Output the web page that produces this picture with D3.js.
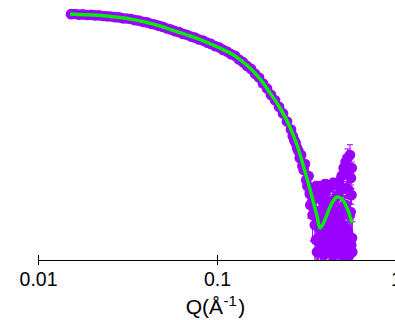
<!DOCTYPE html>
<html>
<head>
<meta charset="utf-8">
<script src="https://cdn.jsdelivr.net/npm/d3@7"></script>
<style>
  html, body { margin: 0; padding: 0; background: #fff; }
  svg { display: block; }
  text { font-family: Arial, "Liberation Sans", sans-serif; fill: #000; }
</style>
</head>
<body>
<svg id="chart" width="395" height="320"></svg>
<script>
// ---- data (Q in 1/A, intensity) ----
const qData = [
  0.01529,0.01610,0.01695,0.01784,0.01879,0.01978,0.02082,0.02192,0.02308,0.02430,
  0.02558,0.02693,0.02835,0.02985,0.03143,0.03308,0.03483,0.03667,0.03860,0.04064,
  0.04279,0.04504,0.04742,0.04993,0.05256,0.05534,0.05826,0.06134,0.06457,0.06798,
  0.07157,0.07535,0.07933,0.08352,0.08793,0.09257,0.09746,0.1026,0.1080,0.1137,
  0.1197,0.1261,0.1327,0.1397,0.1471,0.1549,0.1631,0.1717,0.1807,0.1903,
  0.2003,0.2109,0.2221,0.2338,0.2461,0.2591,
  0.265,0.270,0.275,0.280,0.285,0.290,0.295,0.300,0.305,0.310,
  0.315,0.320,0.325,0.330,0.335,0.340,0.345,0.350,0.355,0.360,
  0.364,0.368,0.373,0.377,0.381,0.386,0.390,0.394,0.398,0.403,
  0.407,0.411,0.416,0.420,0.424,0.429,0.433,0.437,0.441,0.446,
  0.450,0.454,0.459,0.463,0.467,0.472,0.476,0.480,0.484,0.489,
  0.493,0.497,0.502,0.506,0.510,0.515,0.519,0.523,0.527,0.532,
  0.536,0.540,0.545,0.549,0.553,0.558,0.562,0.566,0.570
];
const iData = [
  5.33,5.38,5.24,5.29,5.15,5.19,5.06,5.08,4.92,4.86,
  4.82,4.67,4.63,4.45,4.41,4.31,4.09,4.00,3.81,3.71,
  3.49,3.38,3.18,3.03,2.83,2.70,2.51,2.41,2.23,2.14,
  1.98,1.89,1.74,1.66,1.52,1.43,1.30,1.23,1.10,1.02,
  0.911,0.845,0.718,0.636,0.540,0.473,0.381,0.322,0.248,0.199,
  0.150,0.118,0.0884,0.0659,0.0461,0.0322,
  0.0242,0.0203,0.0178,0.01425,0.01248,0.00915,0.01045,0.00642,0.00538,0.00702,
  0.00346,0.00265,0.00412,0.00186,0.00242,0.00130,0.00203,0.000915,0.00156,0.00265,
  0.000538,0.000265,0.00203,0.000838,0.000170,0.00265,0.000377,0.00114,0.00178,0.00289,
  0.000242,0.000733,0.00142,0.00242,0.000412,0.000156,0.00105,0.00265,0.000588,0.00303,
  0.000222,0.00142,0.000838,0.00277,0.000346,0.00170,0.000156,0.00316,0.000733,0.000265,
  0.00222,0.00412,0.000471,0.000142,0.00588,0.00114,0.000222,0.00767,0.00242,0.000156,
  0.00915,0.000346,0.00431,0.000125,0.01045,0.000838,0.000194,0.00588,0.000142
];
const errData = [
  0.08,0.08,0.07,0.07,0.07,0.07,0.06,0.06,0.06,0.06,
  0.06,0.05,0.05,0.05,0.05,0.05,0.04,0.04,0.04,0.04,
  0.04,0.04,0.03,0.03,0.03,0.03,0.03,0.03,0.03,0.02,
  0.02,0.02,0.02,0.02,0.02,0.02,0.02,0.02,0.02,0.015,
  0.015,0.015,0.012,0.012,0.011,0.010,0.009,0.008,0.007,0.006,
  0.005,0.004,0.0035,0.003,0.0025,0.002,
  0.0009,0.0009,0.0008,0.0008,0.0008,0.0007,0.0007,0.0007,0.0007,0.0007,
  0.0006,0.0006,0.0006,0.0006,0.0006,0.0005,0.0005,0.0005,0.0005,0.0006,
  0.0005,0.0004,0.0005,0.0005,0.0004,0.0006,0.0004,0.0005,0.0005,0.0006,
  0.0004,0.0005,0.0005,0.0006,0.0004,0.0004,0.0005,0.0006,0.0005,0.0007,
  0.0004,0.0006,0.0005,0.0007,0.0004,0.0006,0.0004,0.0008,0.0005,0.0004,
  0.0007,0.0009,0.0005,0.0004,0.0012,0.0006,0.0004,0.0025,0.0008,0.0004,
  0.0045,0.0005,0.0012,0.0004,0.0060,0.0006,0.0004,0.0018,0.0004
];

// second detector frame, high-Q overlap
const qData2 = [0.332,0.342,0.352,0.357,0.362,0.371,0.379,0.384,0.392,0.396,
  0.405,0.413,0.422,0.431,0.439,0.448,0.457,0.465,0.474,0.482,
  0.491,0.499,0.508,0.517,0.525,0.534,0.543,0.551,0.560,0.564,0.568];
const iData2 = [0.00114,0.000733,0.000471,0.000242,0.000142,0.000412,0.000194,0.00142,0.000588,0.000125,
  0.000303,0.000915,0.000156,0.000471,0.000265,0.000125,0.000377,0.00170,0.000170,0.000538,
  0.000242,0.00100,0.000125,0.000412,0.00114,0.000346,0.00222,0.000733,0.00377,0.00178,0.000265];
const errData2 = [0.0005,0.0005,0.0004,0.0004,0.0004,0.0004,0.0004,0.0006,0.0005,0.0004,
  0.0004,0.0005,0.0004,0.0004,0.0004,0.0004,0.0004,0.0006,0.0004,0.0005,
  0.0004,0.0005,0.0004,0.0004,0.0005,0.0004,0.0007,0.0005,0.0010,0.0006,0.0004];

// model fit
const fitQ = [0.0151,0.0183,0.0222,0.0269,0.0327,0.0396,0.0480,0.0583,0.0707,0.0857,
  0.1039,0.1261,0.1529,0.1739,0.1978,0.2249,0.2525,0.2798,0.3062,0.3350,
  0.3620,0.3762,0.3961,0.4170,0.4390,0.4683,0.4993,0.5325,0.5677];
const fitI = [5.38,5.22,5.03,4.71,4.31,3.78,3.16,2.53,2.03,1.59,
  1.19,0.838,0.492,0.303,0.163,0.0838,0.0395,0.0163,0.00588,0.00194,
  0.000702,0.000412,0.000538,0.000838,0.00125,0.00163,0.00149,0.00100,0.000515];

const tickVals = [0.01, 0.1, 1];
const tickLabels = ["0.01", "0.1", "1"];

// ---- chart ----
const w = 395, h = 320;
const axisY = 260;
const purple = "#9b00ff";
const green = "#00ee00";

const svg = d3.select("#chart");

const x = d3.scaleLog().domain([0.01, 1]).range([38, 396]);
const y = d3.scaleLog().domain([1e-4, 10]).range([axisY, 0]);

svg.append("defs").append("clipPath").attr("id", "clip")
  .append("rect").attr("x", 0).attr("y", 0).attr("width", w).attr("height", axisY);

const plot = svg.append("g").attr("clip-path", "url(#clip)");

const pts = qData.map((q, i) => ({ q: q, v: iData[i], e: errData[i] }))
  .concat(qData2.map((q, i) => ({ q: q, v: iData2[i], e: errData2[i] })));

// error bars
const eb = plot.append("g").attr("stroke", purple).attr("stroke-width", 1);
pts.forEach(d => {
  const cx = x(d.q);
  const top = y(d.v + d.e);
  const low = d.v - d.e > 0 ? y(d.v - d.e) : axisY + 10;
  eb.append("line").attr("x1", cx).attr("x2", cx).attr("y1", top).attr("y2", low);
  eb.append("line").attr("x1", cx - 3).attr("x2", cx + 3).attr("y1", top).attr("y2", top);
  eb.append("line").attr("x1", cx - 3).attr("x2", cx + 3).attr("y1", low).attr("y2", low);
});

// markers
plot.append("g").selectAll("circle")
  .data(pts)
  .join("circle")
  .attr("cx", d => x(d.q))
  .attr("cy", d => y(d.v))
  .attr("r", 4.6)
  .attr("fill", purple)
  .attr("stroke", purple)
  .attr("stroke-width", 1.5);

// fit line
const line = d3.line()
  .x((d, i) => x(fitQ[i]))
  .y(d => y(d))
  .curve(d3.curveCatmullRom.alpha(0.5));

plot.append("path")
  .datum(fitI)
  .attr("d", line)
  .attr("fill", "none")
  .attr("stroke", green)
  .attr("stroke-width", 3.5);

// x axis
const xAxis = d3.axisBottom(x)
  .tickValues(tickVals)
  .tickFormat((d, i) => tickLabels[i])
  .tickSizeInner(5)
  .tickSizeOuter(0);

const gx = svg.append("g")
  .attr("transform", `translate(0,${axisY})`)
  .call(xAxis);
gx.select(".domain").attr("stroke", "#000").attr("stroke-width", 1);
gx.selectAll(".tick line").attr("y1", -5).attr("y2", 5).attr("stroke", "#000");
gx.selectAll(".tick text")
  .attr("y", 26).attr("dy", 0)
  .attr("font-size", 19.5)
  .attr("font-family", "Arial, 'Liberation Sans', sans-serif")
  .attr("fill", "#000");

// axis title
const title = svg.append("text")
  .attr("x", 215.5)
  .attr("y", 314)
  .attr("text-anchor", "middle")
  .attr("font-size", 21);
title.append("tspan").text("Q(Å");
title.append("tspan").attr("font-size", 15).attr("dy", -8).attr("dx", 0.5).text("-1");
title.append("tspan").attr("dy", 8).attr("dx", 1.5).text(")");
</script>
</body>
</html>
